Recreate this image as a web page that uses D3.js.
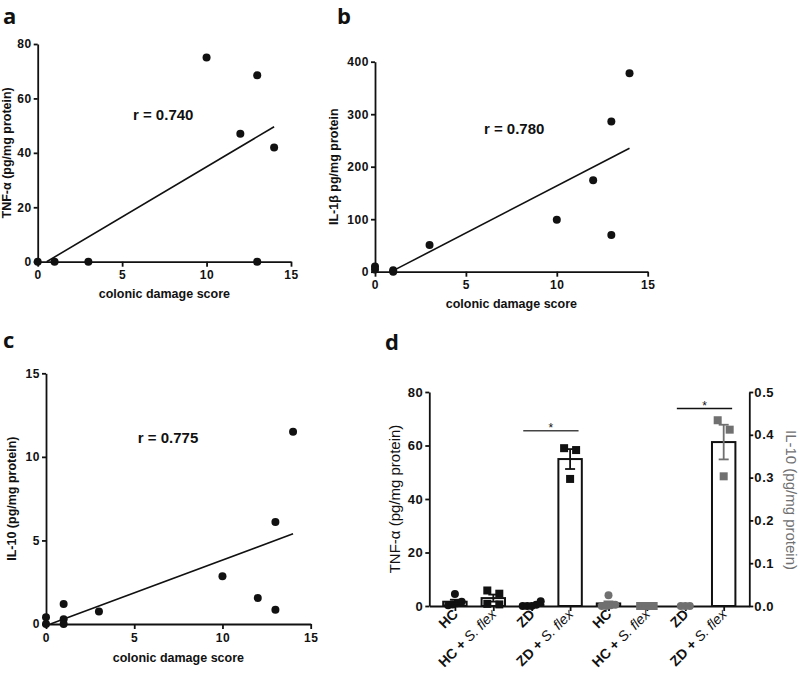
<!DOCTYPE html>
<html>
<head>
<meta charset="utf-8">
<script src="https://cdn.jsdelivr.net/npm/d3@7"></script>
<style>
  body { margin: 0; background: #fff; }
  svg { display: block; font-family: "Liberation Sans", Arial, sans-serif; }
</style>
</head>
<body>
<svg id="fig" width="800" height="673"></svg>
<script>
// ---- data ----
// panel a: TNF-alpha vs colonic damage score
var scoreA = [0, 1, 3, 10, 12, 13, 13, 14];
var tnfA = [0, 0, 0, 75, 47, 68.5, 0, 42];
var fitAx = [0.53, 14];
var fitAy = [0, 49.6];

// panel b: IL-1beta vs colonic damage score
var scoreB = [0, 0, 1, 1, 3, 10, 12, 13, 13, 14];
var il1bB = [10, 4, 3, 0, 51, 99, 174, 286, 70, 378];
var fitBx = [1, 14];
var fitBy = [2, 235];

// panel c: IL-10 vs colonic damage score
var scoreC = [0, 0, 1, 1, 1, 3, 10, 12, 13, 13, 14];
var il10C = [0.4, 0, 1.2, 0.28, 0, 0.75, 2.85, 1.55, 6.1, 0.85, 11.5];
var fitCx = [0.25, 14];
var fitCy = [0, 5.4];

var xTicks = [0, 5, 10, 15];
var yTicksA = [0, 20, 40, 60, 80];
var yTicksB = [0, 100, 200, 300, 400];
var yTicksC = [0, 5, 10, 15];

// panel d: groups, TNF-alpha (left axis) and IL-10 (right axis)
var groupNames = ['HC', 'HC + S. flex', 'ZD', 'ZD + S. flex', 'HC', 'HC + S. flex', 'ZD', 'ZD + S. flex'];
var tnfHC = [4.5, 1.6, 1.0, 0.6, 0.3];
var tnfHCS = [5.8, 4.6, 0.8, 0.6];
var tnfZD = [1.8, 0.5, 0, 0, 0];
var tnfZDS = [59, 58.3, 47.5];
var il10HC = [0.025, 0.003, 0.002, 0, 0];
var il10HCS = [0, 0, 0, 0];
var il10ZD = [0, 0, 0];
var il10ZDS = [0.434, 0.412, 0.303];
var sigFrom = [2, 6];
var sigTo = [3, 7];
var sigLevel = [65.5, 73.8];   // in TNF-alpha units
var yTicksL = [0, 20, 40, 60, 80];
var yTicksR = [0, 0.1, 0.2, 0.3, 0.4, 0.5];

var ink = '#111';
var grey = '#707070';
var svg = d3.select('#fig');

function styleAxis(ax, size) {
    ax.select('.domain').attr('stroke', ink).attr('stroke-width', 1.8);
    ax.selectAll('.tick line').attr('stroke', ink).attr('stroke-width', 1.8);
    ax.selectAll('.tick text')
        .attr('fill', ink)
        .attr('font-family', '"Liberation Sans", Arial, sans-serif')
        .attr('font-weight', 'bold')
        .attr('letter-spacing', 0.6)
        .attr('font-size', size || 12);
}

function panelLetter(t, x, y) {
    svg.append('text').attr('x', x).attr('y', y)
        .attr('font-family', '"Open Sans", sans-serif')
        .attr('font-weight', 'bold').attr('font-size', 22)
        .attr('fill', ink).text(t);
}

// scatter panel with regression line
function scatter(o) {
    var x = d3.scaleLinear().domain([0, 15]).range(o.xr);
    var y = d3.scaleLinear().domain([0, o.ymax]).range(o.yr);
    var g = svg.append('g');

    var xa = g.append('g').attr('transform', `translate(0,${o.yr[0]})`)
        .call(d3.axisBottom(x).tickValues(xTicks).tickSize(5).tickSizeOuter(0).tickPadding(4));
    var ya = g.append('g').attr('transform', `translate(${o.xr[0]},0)`)
        .call(d3.axisLeft(y).tickValues(o.yticks).tickSize(4).tickSizeOuter(0).tickPadding(2));
    styleAxis(xa);
    styleAxis(ya);

    // fitted line
    g.append('line')
        .attr('x1', x(o.fitX[0])).attr('y1', y(o.fitY[0]))
        .attr('x2', x(o.fitX[1])).attr('y2', y(o.fitY[1]))
        .attr('stroke', ink).attr('stroke-width', 1.6);

    g.selectAll('circle.pt')
        .data(o.xs)
        .enter()
        .append('circle')
            .attr('class', 'pt')
            .attr('cx', (d) => x(d))
            .attr('cy', (d, i) => y(o.ys[i]))
            .attr('r', 4)
            .attr('fill', ink);

    // x axis title
    g.append('text')
        .attr('x', (o.xr[0] + o.xr[1]) / 2)
        .attr('y', o.yr[0] + o.xTitleDy)
        .attr('text-anchor', 'middle')
        .attr('font-weight', 'bold').attr('font-size', 12.5)
        .attr('fill', ink)
        .text('colonic damage score');
    // y axis title
    g.append('text')
        .attr('transform', `translate(${o.yTitleX},${(o.yr[0] + o.yr[1]) / 2}) rotate(-90)`)
        .attr('text-anchor', 'middle')
        .attr('font-weight', 'bold').attr('font-size', 12.5)
        .attr('fill', ink)
        .text(o.yTitle);
    // correlation coefficient
    g.append('text')
        .attr('x', x(o.rAt[0])).attr('y', y(o.rAt[1]))
        .attr('font-weight', 'bold').attr('font-size', 15)
        .attr('fill', ink)
        .text(o.rText);
}

scatter({ xr: [37.7, 291], yr: [261.7, 44], ymax: 80, yticks: yTicksA,
    xs: scoreA, ys: tnfA, fitX: fitAx, fitY: fitAy,
    xTitleDy: 36, yTitleX: 11, yTitle: 'TNF-\u03b1 (pg/mg protein)',
    rAt: [5.64, 52.1], rText: 'r = 0.740' });

scatter({ xr: [375, 647.7], yr: [271.7, 61.7], ymax: 400, yticks: yTicksB,
    xs: scoreB, ys: il1bB, fitX: fitBx, fitY: fitBy,
    xTitleDy: 36, yTitleX: 338, yTitle: 'IL-1\u03b2 pg/mg protein',
    rAt: [5.99, 263], rText: 'r = 0.780' });

scatter({ xr: [46, 310.7], yr: [624, 373.3], ymax: 15, yticks: yTicksC,
    xs: scoreC, ys: il10C, fitX: fitCx, fitY: fitCy,
    xTitleDy: 38, yTitleX: 15.5, yTitle: 'IL-10 (pg/mg protein)',
    rAt: [5.2, 10.81], rText: 'r = 0.775' });

panelLetter('a', 3, 24);
panelLetter('b', 337, 24);
panelLetter('c', 3, 348);
panelLetter('d', 385, 350);

// ---- panel d: grouped bars with points, mean +/- SEM, two y axes ----
(function () {
    var groups = [tnfHC, tnfHCS, tnfZD, tnfZDS, il10HC, il10HCS, il10ZD, il10ZDS];
    var x = d3.scalePoint().domain(d3.range(groups.length)).range([429.3, 749.3]).padding(0.667);
    var yL = d3.scaleLinear().domain([0, 80]).range([606, 392]);
    var yR = d3.scaleLinear().domain([0, 0.5]).range([606, 392]);
    var barW = x.step() * 0.61;
    var g = svg.append('g');

    // axes
    var xa = g.append('g').attr('transform', 'translate(0,606)')
        .call(d3.axisBottom(x).tickSize(5).tickSizeOuter(0).tickFormat(''));
    var la = g.append('g').attr('transform', 'translate(429.3,0)')
        .call(d3.axisLeft(yL).tickValues(yTicksL).tickSize(4).tickSizeOuter(0).tickPadding(2));
    var ra = g.append('g').attr('transform', 'translate(749.3,0)')
        .call(d3.axisRight(yR).tickValues(yTicksR).tickSize(4).tickSizeOuter(0).tickPadding(1)
            .tickFormat(d3.format('.1f')));
    styleAxis(xa);
    styleAxis(la, 13);
    styleAxis(ra, 13);

    // spread points that sit at the same height, centred on the group
    function swarm(vals, scale) {
        var pts = vals.map((v) => ({ v: v, py: scale(v) })).sort((a, b) => a.v - b.v);
        var rows = [];
        pts.forEach(function (p) {
            var r = rows[rows.length - 1];
            if (r && r[0].py - p.py < 10) r.push(p); else rows.push([p]);
        });
        rows.forEach(function (r) {
            var n = r.length;
            if (n === 2) r.sort((a, b) => b.v - a.v);
            var sp = n === 2 ? 12 : 4.5;
            r.forEach(function (p, k) { p.dx = (k - (n - 1) / 2) * sp; });
        });
        return pts;
    }

    groups.forEach(function (vals, i) {
        var scale = i < 4 ? yL : yR;
        var col = i < 4 ? ink : grey;
        var cx = x(i);
        var mean = d3.mean(vals);
        var sem = d3.deviation(vals) / Math.sqrt(vals.length) || 0;

        g.append('rect')
            .attr('x', cx - barW / 2).attr('y', scale(mean))
            .attr('width', barW).attr('height', scale(0) - scale(mean))
            .attr('fill', '#fff').attr('stroke', ink).attr('stroke-width', 2);

        var square = (i % 2 === 1);
        swarm(vals, scale).forEach(function (p) {
            if (square) {
                g.append('rect')
                    .attr('x', cx + p.dx - 4).attr('y', p.py - 4)
                    .attr('width', 8).attr('height', 8)
                    .attr('fill', col);
            } else {
                g.append('circle')
                    .attr('cx', cx + p.dx).attr('cy', p.py).attr('r', 4)
                    .attr('fill', col);
            }
        });

        // error bar
        var eb = g.append('g').attr('stroke', col).attr('stroke-width', 1.8);
        eb.append('line').attr('x1', cx).attr('x2', cx)
            .attr('y1', scale(mean - sem)).attr('y2', scale(mean + sem));
        [mean - sem, mean + sem].forEach(function (v) {
            eb.append('line').attr('x1', cx - 5).attr('x2', cx + 5)
                .attr('y1', scale(v)).attr('y2', scale(v));
        });
    });

    // significance brackets
    sigFrom.forEach(function (f, k) {
        var x1 = x(f) - 0.22 * x.step();
        var x2 = x(sigTo[k]) + 0.22 * x.step();
        var yy = yL(sigLevel[k]);
        g.append('line').attr('x1', x1).attr('x2', x2).attr('y1', yy).attr('y2', yy)
            .attr('stroke', k === 0 ? '#444' : ink).attr('stroke-width', 1.5);
        g.append('text').attr('x', (x1 + x2) / 2).attr('y', yy + 1)
            .attr('text-anchor', 'middle').attr('font-size', 12).attr('fill', ink)
            .text('*');
    });

    // category labels, rotated
    groupNames.forEach(function (name, i) {
        var parts = name.split(' + ');
        var t = g.append('text')
            .attr('transform', `translate(${x(i) + 4},615) rotate(-45)`)
            .attr('text-anchor', 'end')
            .attr('font-size', 14).attr('fill', ink);
        t.append('tspan').attr('font-weight', 'bold').text(parts[0]);
        if (parts.length > 1) {
            t.append('tspan').attr('font-weight', 'bold').text(' + ');
            t.append('tspan').attr('font-style', 'italic').text(parts[1]);
        }
    });

    // axis titles
    g.append('text')
        .attr('transform', 'translate(399.5,499) rotate(-90)')
        .attr('text-anchor', 'middle').attr('font-size', 15).attr('fill', ink)
        .text('TNF-\u03b1 (pg/mg protein)');
    g.append('text')
        .attr('transform', 'translate(786,500) rotate(90)')
        .attr('text-anchor', 'middle').attr('font-size', 15).attr('fill', grey)
        .text('IL-10 (pg/mg protein)');
})();
</script>
</body>
</html>
